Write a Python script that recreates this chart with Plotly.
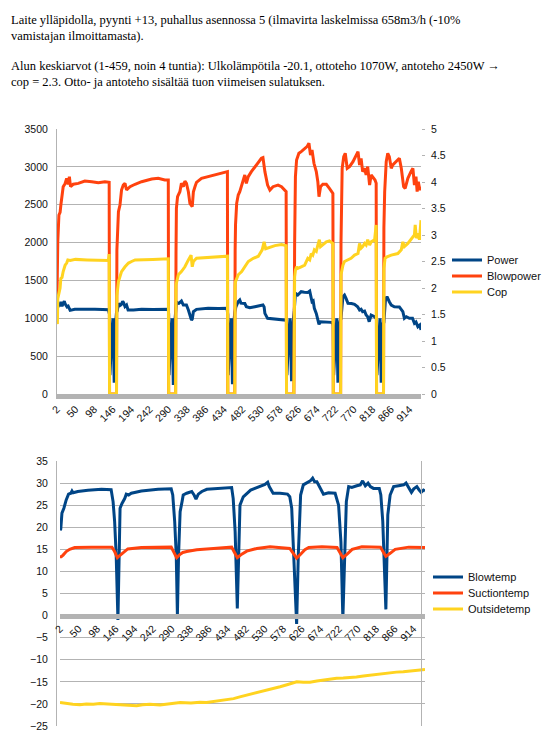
import plotly.graph_objects as go

# --- chart 1: Power / Blowpower (left axis, W) and Cop (right axis) ---
power_s = [2, 4, 6, 9, 12, 15, 18, 21, 23, 25, 28, 31, 34, 36, 48, 70, 100, 120, 135,
           138, 139, 144, 147, 150, 153, 156,
           158, 161, 165, 168, 172, 174, 178, 182, 186, 200, 221, 250, 281, 290,
           291, 292, 297, 300, 303, 306, 309,
           311, 314, 317, 321, 324, 329, 337, 342, 346, 350, 352, 355, 363, 393, 420, 442,
           444, 445, 450, 453, 456, 459, 462,
           465, 471, 475, 478, 480, 488, 492, 501, 514, 535, 538, 540, 547, 566, 592, 595,
           596, 597, 602, 605, 609, 612, 616,
           619, 625, 634, 642, 651, 656, 660, 662, 665, 668, 673, 677, 680, 684, 694, 712, 716,
           717, 718, 723, 726, 729, 732, 736,
           737, 742, 746, 750, 755, 764, 772, 780, 785, 789, 793, 798, 802, 806, 810, 815, 824, 828,
           829, 830, 835, 838, 841, 844, 847,
           848, 852, 856, 862, 867, 875, 888, 897, 901, 906, 914, 922, 927, 931, 936, 941, 944]
power_v = [1110, 1150, 1180, 1160, 1215, 1160, 1200, 1225, 1190, 1175, 1150, 1160, 1115, 1105, 1120, 1115, 1118, 1115, 1112,
           1050, 250, 800, 1000, 150, 900, 1080,
           1100, 1195, 1170, 1180, 1225, 1210, 1155, 1175, 1110, 1110, 1118, 1115, 1123, 1118,
           1050, 250, 800, 1000, 120, 900, 1080,
           1219, 1200, 1197, 1215, 1228, 1175, 1175, 1109, 1021, 977, 990, 1087, 1118, 1131, 1128, 1131,
           1050, 250, 800, 1000, 130, 900, 1080,
           1150, 1219, 1241, 1200, 1197, 1195, 1153, 1140, 1153, 1175, 1150, 1065, 999, 990, 977, 975,
           950, 250, 800, 1000, 170, 900, 1100,
           1330, 1307, 1351, 1345, 1342, 1360, 1263, 1219, 1230, 1131, 1065, 999, 920, 955, 955, 946, 933,
           900, 250, 800, 1000, 150, 900, 1000,
           1000, 1285, 1307, 1263, 1197, 1195, 1184, 1153, 1109, 1120, 1087, 1095, 1043, 1021, 955, 1043, 1021, 999,
           990, 250, 800, 1000, 150, 900, 955,
           955, 1241, 1285, 1219, 1175, 1153, 1150, 1087, 999, 1021, 999, 1000, 933, 950, 889, 911, 845]

blow_s = [2, 4, 7, 10, 12, 16, 18, 23, 27, 31, 34, 37, 44, 57, 74, 92, 109, 126, 137, 138,
          156, 157, 158.5, 161, 165, 169, 173.5, 178, 182, 191, 204, 221, 247, 264, 281, 290, 291,
          309, 310, 311, 314, 320, 324, 329, 333, 337, 342, 346, 352, 355, 359, 363, 376, 393, 411, 428, 443, 444,
          462, 463, 464, 467, 471, 475, 480, 484, 488, 492, 497, 505, 514, 523, 531, 535, 540, 547, 553, 561, 574, 583, 595, 596,
          615, 617, 619, 622, 628, 634, 643, 649, 654, 658, 662, 667, 673, 677, 680, 684, 690, 699, 707, 716, 717,
          736, 737, 738, 740, 744, 748, 753, 759, 768, 774, 781, 785, 789, 793, 798, 802, 806, 811, 815, 825, 828, 829,
          847, 848, 850, 854, 858, 862, 867, 871, 880, 888, 893, 899, 903, 910, 918, 923, 927, 931, 934, 937, 941, 944]
blow_v = [1280, 2012, 2364, 2400, 2496, 2650, 2738, 2780, 2848, 2770, 2870, 2738, 2770, 2782, 2813, 2804, 2791, 2804, 2796, 0,
          0, 1900, 2200, 2408, 2496, 2694, 2760, 2782, 2694, 2738, 2770, 2804, 2840, 2848, 2826, 2826, 0,
          0, 1880, 2452, 2606, 2672, 2782, 2738, 2813, 2782, 2672, 2518, 2474, 2672, 2738, 2796, 2848, 2870, 2901, 2923, 2937, 0,
          0, 1900, 2232, 2518, 2628, 2672, 2760, 2804, 2892, 2782, 2870, 2937, 3003, 3069, 3113, 3122, 2937, 2760, 2694, 2738, 2760, 2738, 2672, 0,
          0, 2000, 2870, 3091, 3179, 3201, 3245, 3267, 3311, 3157, 3223, 3047, 2937, 2804, 2606, 2738, 2770, 2770, 2716, 2650, 0,
          0, 2000, 2452, 2981, 3135, 3179, 2981, 3003, 3069, 3135, 3201, 3025, 3113, 2937, 2981, 2892, 3003, 2760, 2892, 2826, 2782, 0,
          0, 2200, 2672, 3069, 3179, 3135, 2981, 3025, 3069, 3113, 2981, 2738, 2716, 2848, 2937, 2981, 2760, 2870, 2672, 2804, 2694, 2738]

cop_s = [2, 3, 4, 7, 10, 12, 15, 18, 23, 27, 30, 36, 50, 80, 110, 135, 137, 138,
         156, 157, 161, 165, 169, 178, 187, 195, 204, 250, 290, 291,
         309, 310, 316, 324, 333, 342, 346, 349, 352, 355, 363, 380, 402, 443, 444,
         462, 463, 464, 471, 480, 488, 497, 510, 523, 533, 538, 542, 549, 566, 583, 595, 596,
         615, 617, 619, 622, 625, 634, 643, 651, 656, 660, 664, 668, 673, 677, 681, 684, 690, 699, 707, 716, 717,
         736, 737, 742, 746, 755, 763, 772, 781, 785, 789, 793, 798, 802, 806, 811, 815, 824, 828, 829,
         847, 848, 851, 856, 867, 884, 893, 897, 901, 910, 918, 927, 929, 932, 936, 940, 944]
cop_v = [1.35, 1.32, 1.80, 1.93, 2.00, 2.18, 2.20, 2.31, 2.43, 2.47, 2.53, 2.52, 2.54, 2.53, 2.52, 2.52, 2.64, 0,
         0, 1.85, 2.12, 2.21, 2.31, 2.40, 2.47, 2.50, 2.53, 2.54, 2.55, 0,
         0, 2.06, 2.25, 2.31, 2.40, 2.53, 2.57, 2.62, 2.40, 2.50, 2.56, 2.57, 2.59, 2.60, 0,
         0, 2.05, 2.12, 2.25, 2.31, 2.40, 2.50, 2.56, 2.60, 2.72, 2.87, 2.74, 2.76, 2.80, 2.82, 2.80, 0,
         0, 2.21, 2.34, 2.40, 2.37, 2.40, 2.43, 2.56, 2.53, 2.65, 2.62, 2.72, 2.69, 2.81, 2.91, 2.78, 2.82, 2.87, 2.89, 2.84, 0,
         0, 2.25, 2.43, 2.50, 2.53, 2.56, 2.62, 2.65, 2.84, 2.75, 2.78, 2.84, 2.81, 2.91, 2.81, 2.87, 2.91, 3.19, 0,
         0, 2.37, 2.56, 2.59, 2.62, 2.65, 2.72, 2.87, 2.78, 2.84, 2.91, 3.00, 3.19, 2.94, 3.03, 2.91, 3.28]

# --- chart 2: temperatures ---
blowtemp_s = [2, 4, 7, 12, 18, 24, 30, 33, 36, 48, 74, 109, 134, 139, 143, 147, 151.5, 154, 157, 162, 169, 173,
              179, 186, 212, 255, 289, 293, 298, 302, 305, 308, 312, 317, 320, 329, 342, 348, 353, 359, 368,
              381, 406, 445, 449, 454, 459.6, 464, 466.5, 475, 484, 494, 505, 518, 531, 538, 542, 552, 570,
              589, 595, 600, 604, 612.7, 617, 623, 630, 635, 648, 654, 659, 665, 674, 682, 695, 712, 721, 727,
              732, 737, 741, 747, 755, 768, 777, 783, 790, 797, 803, 811, 826, 830, 835, 843, 848, 854, 863,
              876, 889, 895, 902, 909, 915, 923, 929, 934, 940, 944]
blowtemp_v = [19.3, 19.6, 23.2, 24.3, 26.2, 27.5, 27.7, 28.2, 27.8, 28.1, 28.4, 28.6, 28.5, 25.8, 21.3, 13.7, -1.0, 13.7, 24.3, 25.4, 26.5, 27.5,
              27.3, 27.7, 28.2, 28.6, 28.7, 27.3, 21.3, 13.7, 0.1, 13.7, 23.5, 25.8, 27.3, 27.7, 28.1, 27.3, 26.4, 27.5, 28.1,
              28.6, 28.8, 29.0, 26.5, 19.0, 1.6, 19.0, 25.0, 26.9, 27.7, 28.4, 28.8, 29.2, 29.7, 30.2, 29.2, 27.7, 27.7,
              27.5, 26.9, 24.3, 15.2, -1.9, 13.7, 27.3, 29.6, 29.9, 30.5, 31.1, 30.3, 30.3, 28.8, 27.5, 27.8, 27.7, 25.0, 16.7,
              -0.7, 16.7, 25.8, 29.2, 29.0, 29.4, 29.6, 30.5, 29.4, 30.0, 29.2, 28.8, 28.8, 27.3, 21.3, 1.4, 22.8, 27.3, 29.2,
              29.4, 29.6, 30.0, 28.8, 27.9, 28.7, 29.2, 28.4, 27.9, 28.4, 28.2]

suction_s = [2, 5, 10, 18, 27, 40, 83, 136, 143, 150, 156, 164.5, 177, 212, 289, 296, 303, 311, 319, 329, 355,
             398, 445, 451, 459.6, 471, 484, 510, 544, 595, 604, 612.7, 623, 634, 644, 678, 717, 725, 732, 743,
             756, 781, 829, 835.5, 843, 854, 867, 902, 944]
suction_v = [13.3, 13.3, 13.7, 14.5, 15.0, 15.4, 15.5, 15.5, 14.5, 13.1, 13.6, 14.3, 15.1, 15.4, 15.5, 14.3, 13.1, 13.8, 14.3, 14.5, 14.9,
             15.2, 15.5, 14.5, 13.1, 13.9, 14.6, 15.2, 15.6, 15.2, 14.1, 13.0, 13.9, 14.9, 15.4, 15.6, 15.4, 14.1, 13.1, 13.9,
             15.0, 15.6, 15.5, 14.5, 13.4, 14.1, 15.0, 15.5, 15.4]

outside_s = [2, 20, 35, 53, 70, 88, 105, 125, 148, 170, 200, 215, 234, 260, 285, 312, 340, 363, 380, 398, 415,
             432, 450, 466, 485, 501, 518, 535, 552, 570, 590, 613, 630, 647, 665, 681, 700, 716, 733, 750,
             767, 785, 802, 819, 836, 853, 870, 888, 905, 922, 944]
outside_v = [-19.7, -20.0, -20.1, -20.2, -20.0, -20.1, -19.9, -20.0, -20.1, -20.3, -20.4, -20.2, -20.1, -20.25, -20.0, -19.7, -19.8, -19.6, -19.7, -19.5, -19.3,
             -19.0, -18.8, -18.4, -18.0, -17.6, -17.2, -16.85, -16.5, -16.1, -15.6, -15.0, -15.1, -15.1, -14.8, -14.6, -14.4, -14.2, -14.15, -14.1,
             -13.9, -13.7, -13.5, -13.3, -13.05, -12.85, -12.8, -12.7, -12.55, -12.4, -12.2]

x_ticks = list(range(2, 915, 48))

W, H = 556, 745
BLUE, RED, YELLOW = '#004586', '#ff420e', '#ffd320'
GRID = '#b3b3b3'
tick_font = dict(family='Liberation Sans', size=10.5, color='#111111')
leg_font = dict(family='Liberation Sans', size=11, color='#111111')


def px_x(p):
    return p / W


def px_y(p):
    return 1 - p / H


fig = go.Figure()

# one legend per entry so the rows can sit as tight as in the original
series = [
    (power_s, power_v, 'Power', BLUE, 'x', 'y', 'legend'),
    (blow_s, blow_v, 'Blowpower', RED, 'x', 'y', 'legend2'),
    (cop_s, cop_v, 'Cop', YELLOW, 'x', 'y2', 'legend3'),
    (blowtemp_s, blowtemp_v, 'Blowtemp', BLUE, 'x4', 'y3', 'legend4'),
    (suction_s, suction_v, 'Suctiontemp', RED, 'x4', 'y3', 'legend5'),
    (outside_s, outside_v, 'Outsidetemp', YELLOW, 'x4', 'y3', 'legend6'),
]
for xs, ys, name, color, xa, ya, leg in series:
    fig.add_trace(go.Scatter(x=xs, y=ys, name=name, mode='lines', line=dict(color=color, width=3),
                             xaxis=xa, yaxis=ya, legend=leg))

c1_x = [px_x(57), px_x(421)]
c1_y = [px_y(394), px_y(129)]
c2_x = [px_x(60), px_x(425)]
c2_y = [px_y(726), px_y(461)]
t_range = [-25, 35]
zero_pos = c2_y[0] + (0 - t_range[0]) / (t_range[1] - t_range[0]) * (c2_y[1] - c2_y[0])

legend_rows = {'legend': (447, 260), 'legend2': (447, 276), 'legend3': (447, 292),
               'legend4': (428, 577), 'legend5': (428, 593), 'legend6': (428, 609)}
legends = {k: dict(x=px_x(lx), y=px_y(ly), xanchor='left', yanchor='middle', font=leg_font,
                   bgcolor='rgba(0,0,0,0)', borderwidth=0)
           for k, (lx, ly) in legend_rows.items()}

fig.update_layout(
    width=W, height=H,
    margin=dict(l=0, r=0, t=0, b=0, autoexpand=False),
    paper_bgcolor='white', plot_bgcolor='white',
    showlegend=True,
    xaxis=dict(domain=c1_x, anchor='y', range=[2, 944], tickvals=x_ticks,
               ticktext=[str(v) for v in x_ticks], tickangle=-45, tickfont=tick_font,
               showgrid=False, zeroline=False, showline=True, linecolor=GRID, linewidth=5, ticks=''),
    yaxis=dict(domain=c1_y, anchor='x', range=[0, 3500], dtick=500, tickfont=tick_font,
               showgrid=True, gridcolor=GRID, gridwidth=1, zeroline=False,
               showline=True, linecolor=GRID, linewidth=1, ticks='', ticklabelstandoff=6),
    yaxis2=dict(overlaying='y', side='right', anchor='x', range=[0, 5], dtick=0.5, tickfont=tick_font,
                showgrid=False, zeroline=False, showline=False, ticks='outside', ticklen=3,
                tickcolor=GRID, ticklabelstandoff=4),
    xaxis3=dict(domain=c2_x, anchor='y3', range=[2, 944], showticklabels=False, showgrid=False,
                zeroline=False, showline=True, mirror=True, linecolor=GRID, linewidth=1, ticks=''),
    xaxis4=dict(domain=c2_x, overlaying='x3', anchor='free', position=zero_pos, range=[2, 944],
                tickvals=x_ticks, ticktext=[str(v) for v in x_ticks], tickangle=-45, tickfont=tick_font,
                showgrid=False, zeroline=False, showline=True, linecolor=GRID, linewidth=5, ticks=''),
    yaxis3=dict(domain=c2_y, anchor='x3', range=t_range, dtick=5, tickfont=tick_font,
                showgrid=True, gridcolor=GRID, gridwidth=1, zeroline=False,
                showline=True, mirror=True, linecolor=GRID, linewidth=1, ticks='', ticklabelstandoff=6),
    **legends,
)

para1 = ('Laite ylläpidolla, pyynti +13, puhallus asennossa 5 (ilmavirta laskelmissa 658m3/h (-10%<br>'
         'vamistajan ilmoittamasta).')
para2 = ('Alun keskiarvot (1-459, noin 4 tuntia): Ulkolämpötila -20.1, ottoteho 1070W, antoteho 2450W →<br>'
         'cop = 2.3. Otto- ja antoteho sisältää tuon viimeisen sulatuksen.')
for txt, top in [(para1, 11), (para2, 57)]:
    fig.add_annotation(text=txt, xref='paper', yref='paper', x=px_x(9), y=px_y(top),
                       xanchor='left', yanchor='top', align='left', showarrow=False,
                       font=dict(family='Liberation Serif', size=12.5, color='#000000'))

# the page itself should not add a border round the figure; no toolbar either
fig.write_html("out.html", config={'displayModeBar': False},
               post_script="document.body.style.margin='0px';")
